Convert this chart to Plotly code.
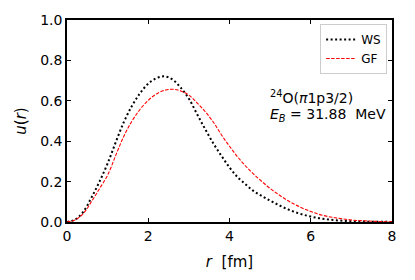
import plotly.graph_objects as go

r_vals = [0.0, 0.2, 0.4, 0.6, 0.8, 1.0, 1.2, 1.4, 1.6, 1.8, 2.0, 2.2, 2.4, 2.6, 2.8,
          3.0, 3.2, 3.4, 3.6, 3.8, 4.0, 4.2, 4.4, 4.6, 4.8, 5.0, 5.2, 5.4, 5.6, 5.8,
          6.0, 6.2, 6.4, 6.6, 6.8, 7.0, 7.2, 7.4, 7.6, 7.8, 8.0]

ws_u = [0.0, 0.012, 0.05, 0.12, 0.2, 0.29, 0.395, 0.495, 0.575, 0.638, 0.685, 0.712,
        0.721, 0.705, 0.665, 0.61, 0.535, 0.46, 0.39, 0.328, 0.27, 0.222, 0.186,
        0.152, 0.128, 0.106, 0.085, 0.066, 0.05, 0.037, 0.027, 0.019, 0.013, 0.009,
        0.006, 0.004, 0.003, 0.002, 0.001, 0.001, 0.0]

gf_u = [0.0, 0.01, 0.042, 0.1, 0.165, 0.232, 0.33, 0.425, 0.5, 0.558, 0.602, 0.634,
        0.652, 0.657, 0.649, 0.628, 0.59, 0.547, 0.495, 0.432, 0.375, 0.322, 0.276,
        0.236, 0.2, 0.166, 0.137, 0.11, 0.088, 0.068, 0.052, 0.038, 0.028, 0.021,
        0.015, 0.01, 0.007, 0.005, 0.003, 0.002, 0.001]

x_ticks = [0, 2, 4, 6, 8]
y_ticks = [0.0, 0.2, 0.4, 0.6, 0.8, 1.0]

FONT = "DejaVu Sans"

fig = go.Figure()
fig.add_trace(go.Scatter(x=r_vals, y=ws_u, mode="lines", name="WS", line_shape="spline",
                         line=dict(color="black", width=2, dash="2px,2.5px")))
fig.add_trace(go.Scatter(x=r_vals, y=gf_u, mode="lines", name="GF", line_shape="spline",
                         line=dict(color="red", width=1.1, dash="3.5px,1.5px")))

axis_common = dict(showgrid=False, zeroline=False, showline=True, linecolor="black",
                   linewidth=1.5, mirror="ticks", ticks="inside", ticklen=4,
                   tickcolor="black", tickwidth=1, automargin=False,
                   tickfont=dict(family=FONT, size=14, color="black"))

fig.update_xaxes(range=[0, 8], tickvals=x_ticks, ticktext=[str(v) for v in x_ticks],
                 title=dict(text="<i>r</i>\u00a0\u00a0[fm]", font=dict(family=FONT, size=15, color="black"),
                            standoff=14),
                 **axis_common)
fig.update_yaxes(range=[0, 1], tickvals=y_ticks, ticktext=[f"{v:.1f}" for v in y_ticks],
                 title=dict(text="<i>u</i>(<i>r</i>)", font=dict(family=FONT, size=15, color="black"),
                            standoff=10),
                 **axis_common)

fig.add_annotation(xref="x", yref="y", x=4.94, y=0.62, xanchor="left", yanchor="middle",
                   text="<sup>24</sup>O(<i>π</i>1p3/2)", showarrow=False,
                   font=dict(family=FONT, size=14, color="black"))
fig.add_annotation(xref="x", yref="y", x=4.94, y=0.53, xanchor="left", yanchor="middle",
                   text="<i>E<sub>B</sub></i>\u00a0=\u00a031.88\u00a0\u00a0MeV", showarrow=False,
                   font=dict(family=FONT, size=14, color="black"))

fig.update_layout(
    width=407, height=272,
    margin=dict(l=59, r=23, t=12, b=58, autoexpand=False),
    paper_bgcolor="white", plot_bgcolor="white",
    font=dict(family=FONT, size=13, color="black"),
    showlegend=True,
    legend=dict(x=0.985, y=0.98, xanchor="right", yanchor="top",
                bgcolor="white", bordercolor="#cccccc", borderwidth=1,
                font=dict(family=FONT, size=12, color="black"),
                tracegroupgap=0, itemwidth=30),
)

fig.write_html("out.html")
